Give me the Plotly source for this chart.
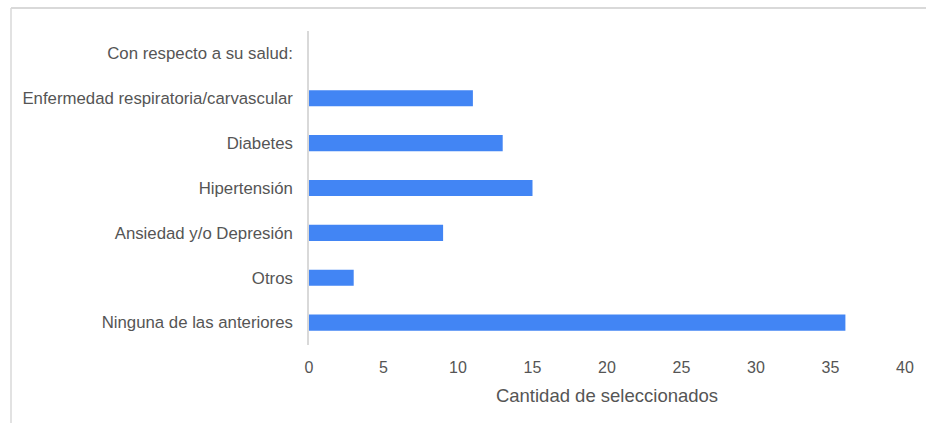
import plotly.graph_objects as go

# Survey responses: health conditions reported
categories = [
    "Con respecto a su salud:",
    "Enfermedad respiratoria/carvascular",
    "Diabetes",
    "Hipertensión",
    "Ansiedad y/o Depresión",
    "Otros",
    "Ninguna de las anteriores",
]
counts = [None, 11, 13, 15, 9, 3, 36]
x_ticks = [0, 5, 10, 15, 20, 25, 30, 35, 40]

fig = go.Figure(
    go.Bar(
        y=categories,
        x=counts,
        orientation="h",
        marker=dict(color="#4285f4", line=dict(width=0)),
        width=0.36,
    )
)

family = "Liberation Sans, Arial, sans-serif"
text_color = "#555555"

fig.update_layout(
    width=926,
    height=423,
    margin=dict(l=309, r=17, t=31, b=78),
    paper_bgcolor="white",
    plot_bgcolor="white",
    showlegend=False,
    font=dict(family=family, size=16, color=text_color),
    xaxis=dict(
        range=[0, 40],
        tickvals=x_ticks,
        showgrid=False,
        zeroline=False,
        showline=False,
        ticks="",
        tickfont=dict(size=16),
        ticklabelstandoff=11,
        title=dict(text="Cantidad de seleccionados",
                   font=dict(size=18.5, color=text_color), standoff=14),
    ),
    yaxis=dict(
        categoryorder="array",
        categoryarray=categories[::-1],
        autorange=False,
        range=[-0.5, 6.5],
        showgrid=False,
        zeroline=False,
        showline=True,
        linecolor="#d9d9d9",
        linewidth=1.5,
        ticks="",
        tickfont=dict(size=16.8),
        ticklabelstandoff=11,
    ),
    shapes=[
        # outer frame (top and left edges)
        dict(type="line", xref="paper", yref="paper", x0=-0.5, x1=1.04,
             y0=1.073, y1=1.073, line=dict(color="#d9d9d9", width=2)),
        dict(type="line", xref="paper", yref="paper", x0=-0.5, x1=-0.5,
             y0=1.073, y1=-0.26, line=dict(color="#d9d9d9", width=1.5)),
    ],
)

fig.write_html("out.html")
